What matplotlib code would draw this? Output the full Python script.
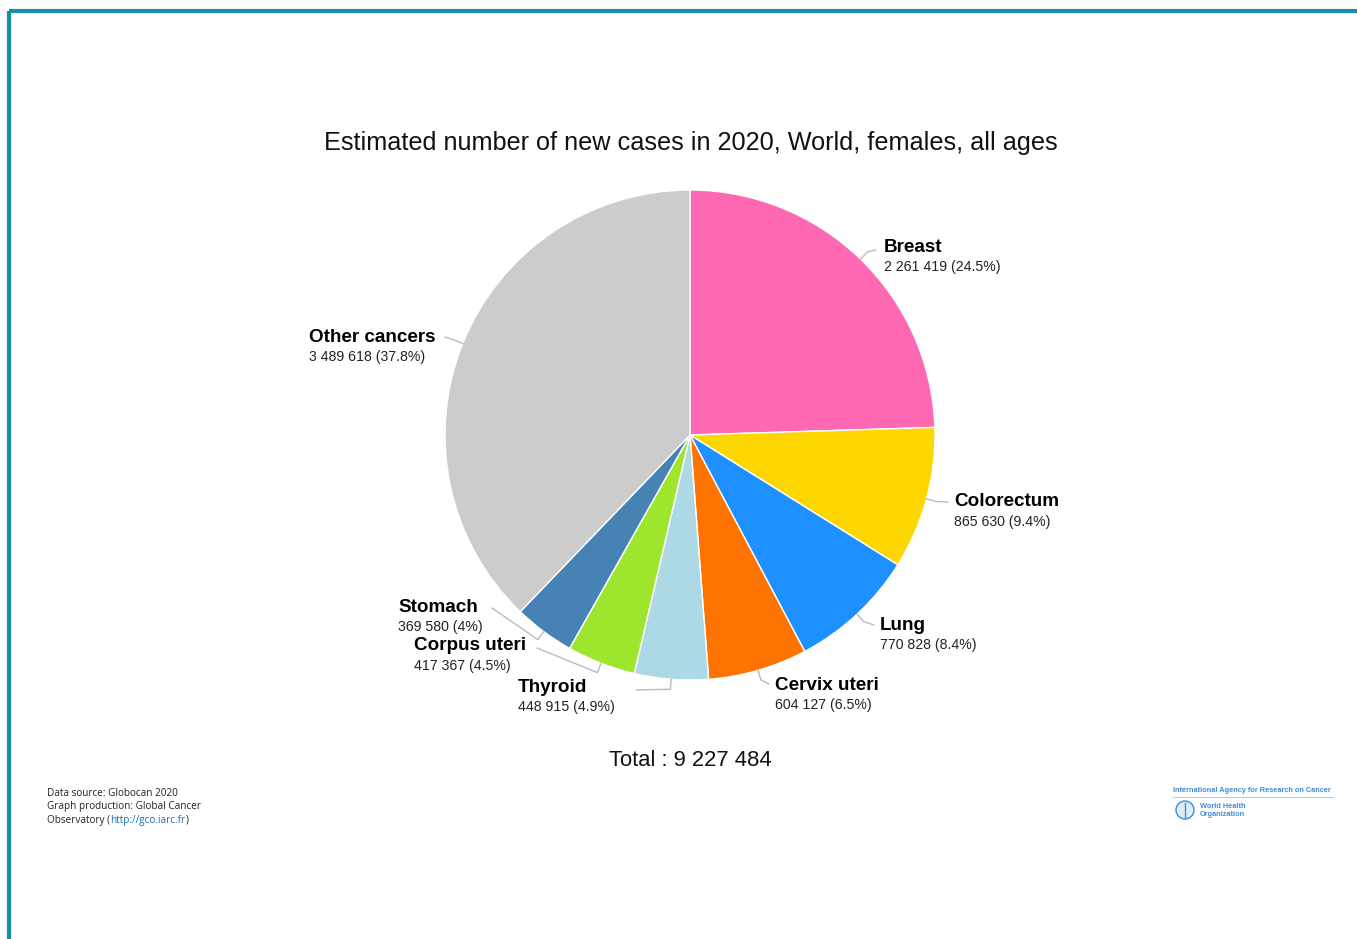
import matplotlib
matplotlib.use("Agg")
import matplotlib.pyplot as plt
from matplotlib.patches import Circle
import numpy as np

# Cancer sites, new cases (females, all ages, 2020) and slice colours
sites = ["Breast", "Colorectum", "Lung", "Cervix uteri", "Thyroid",
         "Corpus uteri", "Stomach", "Other cancers"]
cases = [2261419, 865630, 770828, 604127, 448915, 417367, 369580, 3489618]
colors = ["#ff69b4", "#ffd700", "#1e90ff", "#ff7400", "#add8e6",
          "#9ee62e", "#4682b4", "#cccccc"]

title = "Estimated number of new cases in 2020, World, females, all ages"

W, H = 1357, 939
fig = plt.figure(figsize=(W / 100, H / 100), dpi=100)
ax = fig.add_axes([0, 0, 1, 1])

CX, CY, R = 690, 435, 245
wedges, _ = ax.pie(cases, colors=colors, center=(CX, CY), radius=R,
                   startangle=-90, counterclock=True,
                   wedgeprops=dict(edgecolor="white", linewidth=1))
ax.set_xlim(0, W)
ax.set_ylim(H, 0)
ax.set_aspect("equal")
ax.axis("off")

total = sum(cases)


def fmt_num(v):
    return f"{v:,}".replace(",", " ")


def fmt_pct(v):
    p = round(100 * v / total, 1)
    s = f"{p:.1f}"
    if s.endswith(".0"):
        s = s[:-2]
    return s + "%"


# label placement: (text left x, first line y, connector end x, end y)
label_layout = [
    (884, 247, 876, 250),
    (954, 502, 948, 502),
    (880, 625, 874, 625),
    (775, 685, 769, 684),
    (518, 687, 636, 690),
    (414, 646, 537, 648),
    (398, 607, 492, 608),
    (309, 337, 445, 337),
]

SANS = ["Liberation Sans", "DejaVu Sans"]
for w, name, v, (lx, ly, ex, ey) in zip(wedges, sites, cases, label_layout):
    mid = np.deg2rad((w.theta1 + w.theta2) / 2)
    sx, sy = CX + R * np.cos(mid), CY + R * np.sin(mid)
    kx, ky = CX + (R + 10) * np.cos(mid), CY + (R + 10) * np.sin(mid)
    ax.plot([sx, kx, ex], [sy, ky, ey], color="#bbbbbb", lw=1,
            solid_capstyle="round", zorder=1)
    ax.text(lx, ly, name, fontsize=13.6, fontweight="bold", family=SANS,
            ha="left", va="center", color="#000000")
    ax.text(lx, ly + 20, f"{fmt_num(v)} ({fmt_pct(v)})", fontsize=10.2,
            family=SANS, ha="left", va="center", color="#222222")

ax.text(691, 143, title, fontsize=18.2, family=SANS, ha="center",
        va="center", color="#111111")
ax.text(690, 760, f"Total : {fmt_num(total)}", fontsize=15.8, family=SANS,
        ha="center", va="center", color="#111111")

# frame lines along the top and left
ax.plot([9, W], [11, 11], color="#1190a8", lw=3, solid_capstyle="butt")
ax.plot([9, 9], [11, H], color="#1190a8", lw=3, solid_capstyle="butt")

# source credit
SRC = ["Open Sans", "DejaVu Sans"]
ax.text(47, 793, "Data source: Globocan 2020", fontsize=7.2, family=SRC,
        va="center", color="#222222")
ax.text(47, 806, "Graph production: Global Cancer", fontsize=7.2, family=SRC,
        va="center", color="#222222")
fig.canvas.draw()
renderer = fig.canvas.get_renderer()
inv = ax.transData.inverted()
x = 47
for part, col in [("Observatory (", "#222222"), ("http://gco.iarc.fr", "#1a6fc0"),
                  (")", "#222222")]:
    t = ax.text(x, 820, part, fontsize=7.2, family=SRC, va="center", color=col)
    bb = t.get_window_extent(renderer)
    x = inv.transform((bb.x1, bb.y0))[0]

# agency marks
NARROW = ["Liberation Sans Narrow", "Liberation Sans", "DejaVu Sans"]
ax.text(1173, 790, "International Agency for Research on Cancer", fontsize=5.3,
        fontweight="bold", family=NARROW, va="center", color="#3d8fd6")
ax.plot([1173, 1333], [797, 797], color="#a9d2ee", lw=0.8)
ax.add_patch(Circle((1185, 810), 9, facecolor="#dcecf8", edgecolor="#3d8fd6", lw=1))
ax.plot([1185, 1185], [803, 818], color="#3d8fd6", lw=1)
ax.text(1200, 806, "World Health", fontsize=5.3, fontweight="bold",
        family=NARROW, va="center", color="#3d8fd6")
ax.text(1200, 814, "Organization", fontsize=5.3, fontweight="bold",
        family=NARROW, va="center", color="#3d8fd6")

fig.savefig("out.png", dpi=100, facecolor="white")
